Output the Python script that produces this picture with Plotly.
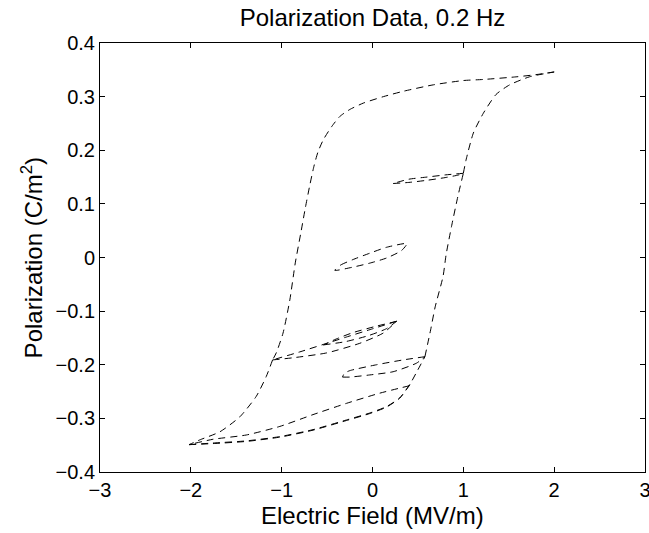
import plotly.graph_objects as go

# ---- data (E in MV/m, P in C/m^2) ----
# major descending branch from +2 to the first reversal corner
desc_major_E = [2.0, 1.80, 1.59, 1.22, 1.0, 0.67, 0.34, 0.12, -0.10, -0.25, -0.36, -0.45, -0.54,
                -0.60, -0.645, -0.69, -0.74, -0.79, -0.85, -0.91, -0.985, -1.06, -1.10]
desc_major_P = [0.346, 0.341, 0.337, 0.332, 0.330, 0.322, 0.310, 0.300, 0.288, 0.276, 0.263, 0.244, 0.220,
                0.197, 0.170, 0.135, 0.092, 0.045, -0.010, -0.079, -0.141, -0.178, -0.191]

# minor loops at the left corner
l3_asc1_E = [-1.10, -0.875, -0.507, -0.14, 0.117, 0.265]
l3_asc1_P = [-0.191, -0.187, -0.178, -0.160, -0.141, -0.119]
l3_desc1_E = [0.265, 0.044, -0.214, -0.40, -0.54]
l3_desc1_P = [-0.119, -0.128, -0.140, -0.152, -0.163]
l3_asc2_E = [-0.54, -0.30, -0.05, 0.15, 0.265]
l3_asc2_P = [-0.163, -0.157, -0.146, -0.133, -0.119]
l3_desc2_E = [0.265, 0.0, -0.30, -0.54, -0.80, -1.10]
l3_desc2_P = [-0.119, -0.133, -0.149, -0.162, -0.176, -0.191]

# major descending branch continuation to -2
desc_tail_E = [-1.10, -1.17, -1.28, -1.46, -1.68, -1.90, -2.02]
desc_tail_P = [-0.191, -0.222, -0.259, -0.297, -0.325, -0.340, -0.349]

# ascending major branch from -2 (traversed twice) and reversal at 0.41
asc_low_E = [-2.02, -1.757, -1.39, -1.02, -0.655, -0.287, -0.03, 0.154, 0.30, 0.41]
asc_low_P = [-0.349, -0.346, -0.342, -0.334, -0.321, -0.303, -0.290, -0.278, -0.262, -0.237]
ret_low_E = [0.41, 0.08, -0.287, -0.655, -1.02, -1.39, -1.757, -2.02]
ret_low_P = [-0.239, -0.253, -0.272, -0.293, -0.315, -0.331, -0.339, -0.349]
asc_mid_E = [-2.02, -1.757, -1.39, -1.02, -0.655, -0.287, -0.03, 0.154, 0.30, 0.41, 0.485, 0.577]
asc_mid_P = [-0.349, -0.347, -0.343, -0.335, -0.322, -0.304, -0.291, -0.279, -0.262, -0.237, -0.214, -0.185]

# minor loop at the right corner
l4_desc_E = [0.577, 0.337, 0.044, -0.25, -0.31, -0.33]
l4_desc_P = [-0.185, -0.191, -0.200, -0.211, -0.216, -0.223]
l4_asc_E = [-0.33, -0.25, -0.03, 0.227, 0.485, 0.577]
l4_asc_P = [-0.223, -0.223, -0.219, -0.213, -0.197, -0.185]

# ascending major branch up to +1
asc_up_E = [0.577, 0.64, 0.69, 0.777, 0.81, 0.87, 0.94, 1.0]
asc_up_P = [-0.185, -0.135, -0.092, -0.035, 0.005, 0.058, 0.114, 0.157]

# thin minor loop at +1
l5_desc_E = [1.0, 0.8, 0.6, 0.4, 0.227]
l5_desc_P = [0.157, 0.154, 0.150, 0.146, 0.138]
l5_asc_E = [0.227, 0.4, 0.6, 0.8, 0.95, 1.0]
l5_asc_P = [0.138, 0.140, 0.144, 0.149, 0.154, 0.157]

# ascending major branch to +2
asc_top_E = [1.0, 1.03, 1.11, 1.22, 1.36, 1.51, 1.73, 2.0]
asc_top_P = [0.157, 0.182, 0.232, 0.269, 0.304, 0.322, 0.337, 0.346]

# small central loop
center_E = [-0.415, -0.35, -0.217, -0.03, 0.154, 0.38, 0.32, 0.154, -0.03, -0.217, -0.415]
center_P = [-0.024, -0.014, -0.004, 0.008, 0.019, 0.026, 0.013, -0.001, -0.0105, -0.018, -0.024]

x_ticks = [-3, -2, -1, 0, 1, 2, 3]
y_ticks = [-0.4, -0.3, -0.2, -0.1, 0, 0.1, 0.2, 0.3, 0.4]

segments = [
    (desc_major_E, desc_major_P), (l3_asc1_E, l3_asc1_P), (l3_desc1_E, l3_desc1_P),
    (l3_asc2_E, l3_asc2_P), (l3_desc2_E, l3_desc2_P), (desc_tail_E, desc_tail_P),
    (asc_low_E, asc_low_P), (ret_low_E, ret_low_P), (asc_mid_E, asc_mid_P),
    (l4_desc_E, l4_desc_P), (l4_asc_E, l4_asc_P), (asc_up_E, asc_up_P),
    (l5_desc_E, l5_desc_P), (l5_asc_E, l5_asc_P), (asc_top_E, asc_top_P),
    (center_E, center_P),
]

FONT = "Liberation Sans, Arial, Helvetica, sans-serif"

fig = go.Figure()
for ex, py in segments:
    fig.add_trace(go.Scatter(
        x=ex, y=py, mode="lines", showlegend=False, hoverinfo="skip",
        line=dict(color="black", width=1, dash="7px,5px", shape="spline", smoothing=0.6),
    ))


def fmt(v):
    return ("−" + format(-v, "g")) if v < 0 else format(v, "g")


axis_common = dict(
    showgrid=False, zeroline=False, showline=True, linecolor="black", linewidth=1,
    mirror="allticks", ticks="inside", ticklen=5, tickwidth=1, tickcolor="black",
    tickfont=dict(family=FONT, size=20, color="black"), automargin=False,
    ticklabeloverflow="allow",
)
fig.update_xaxes(range=[-3, 3], tickvals=x_ticks, ticktext=[fmt(v) for v in x_ticks], **axis_common)
fig.update_yaxes(range=[-0.4, 0.4], tickvals=y_ticks, ticktext=[fmt(v) for v in y_ticks], **axis_common)

fig.update_layout(
    width=649, height=533,
    margin=dict(l=100, r=4, t=43, b=61),
    paper_bgcolor="white", plot_bgcolor="white",
    title=dict(text="Polarization Data, 0.2 Hz", x=0.5, xref="paper", xanchor="center",
               y=1 - 18 / 533, yref="container", yanchor="middle",
               font=dict(family=FONT, size=24, color="black")),
    annotations=[
        dict(text="Electric Field (MV/m)", x=0.5, xref="paper", y=-0.102, yref="paper",
             xanchor="center", yanchor="middle", showarrow=False,
             font=dict(family=FONT, size=24, color="black")),
        dict(text="Polarization (C/m<sup>2</sup>)", x=-0.125, xref="paper", y=0.5, yref="paper",
             xanchor="center", yanchor="middle", showarrow=False, textangle=-90,
             font=dict(family=FONT, size=24, color="black")),
    ],
)

fig.write_html("out.html")
